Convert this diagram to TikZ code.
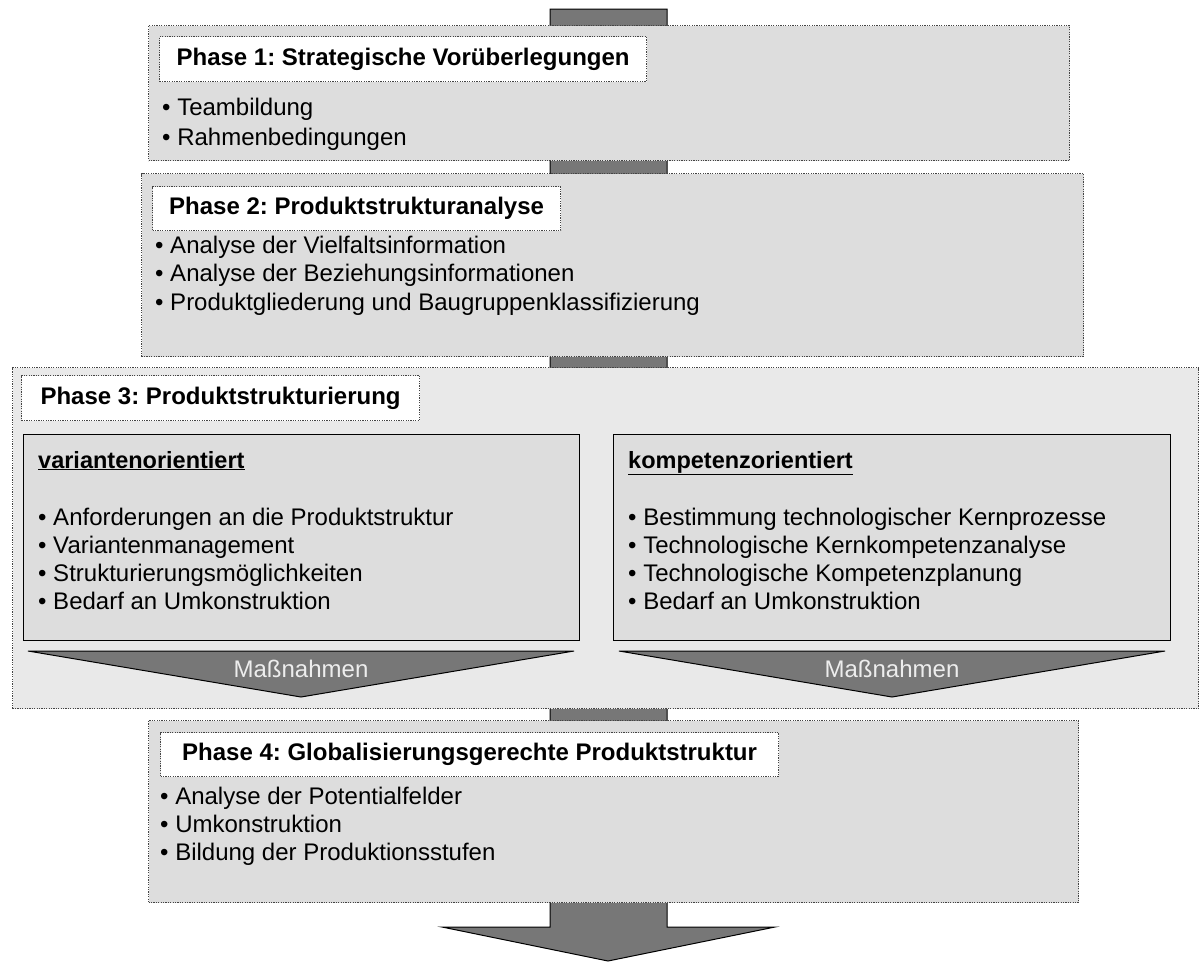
\documentclass[tikz,border=0pt]{standalone}
\usepackage{fontspec}
\setmainfont{Liberation Sans}
\frenchspacing
\definecolor{boxgray}{HTML}{DDDDDD}
\definecolor{lightgray3}{HTML}{E9E9E9}
\definecolor{arrowgray}{HTML}{777777}
\definecolor{dotline}{HTML}{444444}
\begin{document}
\begin{tikzpicture}[x=1pt,y=-1pt,
  dotbox/.style={draw=dotline, line width=1.2pt, dash pattern=on 1.2pt off 1.2pt, inner sep=0pt, anchor=north west, rectangle},
  phasebox/.style={dotbox, fill=boxgray},
  phasebigbox/.style={dotbox, fill=lightgray3},
  titlebox/.style={dotbox, fill=white, font=\fontsize{24}{28}\selectfont\bfseries},
  subbox/.style={draw=black, line width=1.3pt, fill=boxgray, inner sep=0pt, anchor=north west, rectangle},
  txt/.style={anchor=base west, inner sep=0pt, font=\fontsize{24}{28}\selectfont},
  headtxt/.style={anchor=base west, inner sep=0pt, font=\fontsize{23.5}{28}\selectfont\bfseries},
  arrowfill/.style={fill=arrowgray, draw=black, line width=1pt, line join=miter},
  masstxt/.style={anchor=base, inner sep=0pt, text=white!93!black, font=\fontsize{24}{28}\selectfont}
]
\useasboundingbox (0,0) rectangle (1199,962);

% main flow arrow (behind all boxes)
\coordinate (shafttop) at (608,9);
\coordinate (headbase) at (608,927);
\coordinate (flowtip) at (608,961);
\draw[arrowfill] ([xshift=-58pt]shafttop) -- ([xshift=59pt]shafttop)
  -- ([xshift=59pt]headbase) -- ([xshift=167pt]headbase)
  -- (flowtip) -- ([xshift=-166pt]headbase)
  -- ([xshift=-58pt]headbase) -- cycle;

% Phase 1
\node[phasebox, minimum width=921pt, minimum height=135pt] (p1) at (148,25) {};
\node[titlebox, minimum width=487pt, minimum height=45pt] (p1t) at (159,36) {Phase 1: Strategische Vorüberlegungen};
\node[txt] (p1a) at (162,115) {• Teambildung};
\node[txt] (p1b) at (162,145) {• Rahmenbedingungen};

% Phase 2
\node[phasebox, minimum width=942pt, minimum height=183pt] (p2) at (141,173) {};
\node[titlebox, minimum width=408pt, minimum height=44pt] (p2t) at (152,186) {Phase 2: Produktstrukturanalyse};
\node[txt] (p2a) at (155,253) {• Analyse der Vielfaltsinformation};
\node[txt] (p2b) at (155,281) {• Analyse der Beziehungsinformationen};
\node[txt] (p2c) at (155,310) {• Produktgliederung und Baugruppenklassifizierung};

% Phase 3
\node[phasebigbox, minimum width=1186pt, minimum height=341pt] (p3) at (12,367) {};
\node[titlebox, minimum width=398pt, minimum height=45pt] (p3t) at (21,375) {Phase 3: Produktstrukturierung};

\node[subbox, minimum width=556pt, minimum height=206pt] (s1) at (23,434) {};
\node[headtxt] (s1h) at (38,468) {\underline{variantenorientiert}};
\node[txt] (s1a) at (38,525) {• Anforderungen an die Produktstruktur};
\node[txt] (s1b) at (38,553) {• Variantenmanagement};
\node[txt] (s1c) at (38,581) {• Strukturierungsmöglichkeiten};
\node[txt] (s1d) at (38,609) {• Bedarf an Umkonstruktion};

\node[subbox, minimum width=557pt, minimum height=206pt] (s2) at (613,434) {};
\node[headtxt] (s2h) at (628,468) {\underline{kompetenzorientiert}};
\node[txt] (s2a) at (628,525) {• Bestimmung technologischer Kernprozesse};
\node[txt] (s2b) at (628,553) {• Technologische Kernkompetenzanalyse};
\node[txt] (s2c) at (628,581) {• Technologische Kompetenzplanung};
\node[txt] (s2d) at (628,609) {• Bedarf an Umkonstruktion};

% Massnahmen arrows
\coordinate (m1tip) at (301,697);
\coordinate (m2tip) at (892,697);
\draw[arrowfill] (28,651) -- (574,651) -- (m1tip) -- cycle;
\draw[arrowfill] (619,651) -- (1165,651) -- (m2tip) -- cycle;
\node[masstxt] (m1) at (301,677) {Maßnahmen};
\node[masstxt] (m2) at (892,677) {Maßnahmen};

% Phase 4
\node[phasebox, minimum width=930pt, minimum height=182pt] (p4) at (148,720) {};
\node[titlebox, minimum width=618pt, minimum height=44pt] (p4t) at (160,732) {Phase 4: Globalisierungsgerechte Produktstruktur};
\node[txt] (p4a) at (160,804) {• Analyse der Potentialfelder};
\node[txt] (p4b) at (160,832) {• Umkonstruktion};
\node[txt] (p4c) at (160,860) {• Bildung der Produktionsstufen};
\end{tikzpicture}
\end{document}
